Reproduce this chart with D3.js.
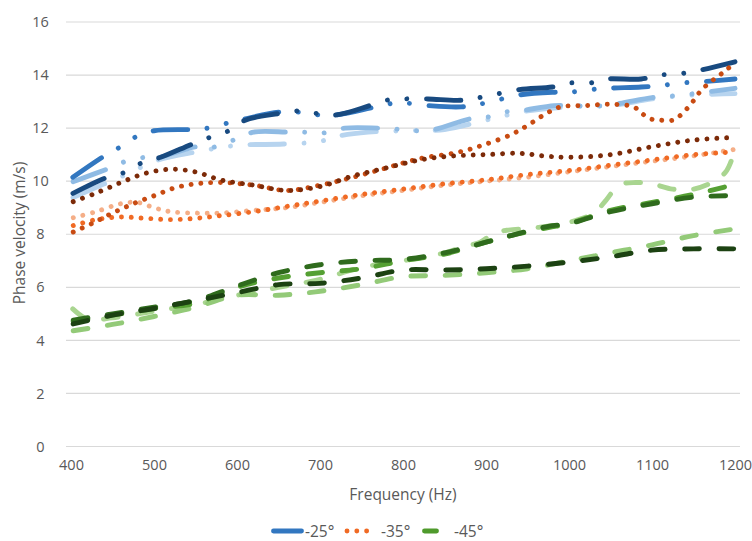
<!DOCTYPE html>
<html><head><meta charset="utf-8">
<script src="https://cdn.jsdelivr.net/npm/d3@7"></script>
<style>html,body{margin:0;padding:0;background:#fff;}svg{display:block;}text{font-family:"Open Sans",sans-serif;fill:#595959;}</style>
</head><body><svg id="c" width="752" height="541"></svg>
<script>
// ---- data ----
const xTicks = [400,500,600,700,800,900,1000,1100,1200];
const yTicks = [0,2,4,6,8,10,12,14,16];
const legendLabels = ["-25°","-35°","-45°"];

// -25° family (long dash dot dot)
const b1F = [400,440,466,486,508,546,567,590,610,650,675,697,720,760,780,800,830,870,900,940,980,1000,1025,1045,1087,1110,1134,1160,1200];
const b1V = [9.5,10.1,10.35,10.7,10.9,11.4,11.65,11.9,12.3,12.55,12.65,12.55,12.5,12.85,13.05,13.1,13.1,13.05,13.2,13.45,13.55,13.7,13.7,13.85,13.85,14.0,14.05,14.2,14.5];
const b2F = [400,440,460,480,500,545,565,590,610,650,675,697,720,760,780,800,830,870,900,940,980,1000,1025,1045,1087,1110,1134,1160,1200];
const b2V = [10.1,10.95,11.3,11.7,11.9,11.95,12.0,12.2,12.35,12.6,12.6,12.5,12.5,12.75,12.9,12.95,12.85,12.8,12.95,13.25,13.35,13.35,13.45,13.5,13.55,13.6,13.7,13.75,13.85];
const b3F = [400,447,466,489,505,552,567,600,620,662,680,700,730,770,800,830,881,900,920,940,982,1000,1042,1100,1120,1150,1200];
const b3V = [9.95,10.5,10.75,10.9,10.9,11.3,11.25,11.6,11.85,11.85,11.85,11.8,12.0,12.0,11.95,11.9,12.35,12.4,12.6,12.65,12.85,12.85,12.85,13.15,13.2,13.3,13.5];
const b4F = [400,440,470,500,550,600,656,700,722,758,800,850,900,950,1000,1050,1100,1150,1200];
const b4V = [9.35,9.9,10.3,10.75,11.1,11.35,11.4,11.5,11.7,11.85,11.9,11.95,12.3,12.65,12.8,12.85,13.1,13.25,13.3];

// -35° family (round dot)
const o1F = [400,430,460,490,520,550,580,620,660,700,740,780,820,860,900,940,970,1000,1050,1100,1150,1200];
const o1V = [9.2,9.55,9.95,10.3,10.45,10.35,10.05,9.85,9.65,9.8,10.2,10.5,10.8,10.95,11.0,11.05,10.95,10.9,11.0,11.3,11.55,11.65];
const o2F = [400,425,450,475,500,525,550,580,620,660,700,740,780,820,860,880,900,930,950,970,990,1020,1050,1078,1088,1098,1110,1125,1135,1148,1160,1175,1190,1200];
const o2V = [8.05,8.4,8.8,9.15,9.45,9.75,9.9,9.95,9.85,9.65,9.85,10.15,10.5,10.85,11.05,11.2,11.4,11.75,12.1,12.5,12.8,12.85,12.9,12.8,12.55,12.35,12.3,12.3,12.5,12.95,13.45,13.85,14.2,14.5];
const o3F = [400,430,460,490,520,550,580,620,660,700,750,800,850,900,950,1000,1050,1100,1150,1200];
const o3V = [8.3,8.55,8.65,8.6,8.55,8.6,8.7,8.85,9.05,9.25,9.5,9.7,9.9,10.05,10.25,10.4,10.6,10.8,11.0,11.1];
const o4F = [400,430,460,480,500,520,550,580,620,660,700,750,800,850,900,950,1000,1050,1100,1150,1200];
const o4V = [8.6,8.85,9.15,9.2,9.0,8.85,8.8,8.8,8.9,9.0,9.2,9.45,9.65,9.85,10.0,10.15,10.35,10.55,10.75,10.95,11.2];

// -45° family (dash)
const g1F = [400,450,500,550,600,650,700,750,800,850,900,930,975,1000,1050,1100,1150,1190];
const g1V = [4.75,5.0,5.25,5.5,6.05,6.55,6.85,7.0,7.05,7.3,7.7,7.95,8.3,8.4,8.85,9.15,9.4,9.45];
const g2F = [400,450,500,550,600,650,700,750,800,850,900,930,975,1000,1050,1100,1150,1190];
const g2V = [4.7,4.95,5.2,5.4,6.0,6.35,6.55,6.7,7.0,7.25,7.7,7.95,8.25,8.4,8.9,9.2,9.5,9.8];
const g3F = [400,420,450,500,550,600,650,700,750,800,850,875,893,910,925,960,1000,1030,1045,1060,1080,1100,1125,1150,1175,1190,1200];
const g3V = [5.25,4.8,4.85,5.1,5.35,5.7,6.0,6.3,6.75,7.0,7.3,7.55,7.7,8.05,8.15,8.25,8.45,8.8,9.3,9.85,9.95,9.9,9.7,9.7,10.0,10.4,11.2];
const g4F = [400,450,500,550,600,650,700,750,800,850,900,950,1000,1050,1100,1150,1200];
const g4V = [4.6,4.95,5.2,5.5,5.8,6.1,6.15,6.35,6.65,6.65,6.7,6.8,6.95,7.15,7.4,7.45,7.45];
const g5F = [400,450,500,550,600,650,700,750,800,850,900,950,1000,1050,1100,1150,1200];
const g5V = [4.35,4.6,4.9,5.25,5.7,5.7,5.85,6.1,6.4,6.45,6.55,6.7,7.0,7.3,7.6,7.95,8.2];

// ---- drawing ----
const W = 4.9;
const dashBlue = "34.3,19.6,0.01,19.6,0.01,19.6";
const dashDot = "0.01,9.8";
const dashGreen = "14.7,19.6";

const series = [
  {f:b4F, v:b4V, c:"#b7d4ef", d:dashBlue},
  {f:b3F, v:b3V, c:"#8fbbe4", d:dashBlue},
  {f:b2F, v:b2V, c:"#3277c0", d:dashBlue},
  {f:b1F, v:b1V, c:"#184a80", d:dashBlue},
  {f:o4F, v:o4V, c:"#f5ae87", d:dashDot},
  {f:o3F, v:o3V, c:"#f06a24", d:dashDot},
  {f:o2F, v:o2V, c:"#c84b12", d:dashDot},
  {f:o1F, v:o1V, c:"#7c2a08", d:dashDot},
  {f:g3F, v:g3V, c:"#a9d590", d:dashGreen},
  {f:g5F, v:g5V, c:"#93ca78", d:dashGreen},
  {f:g2F, v:g2V, c:"#55a033", d:dashGreen},
  {f:g1F, v:g1V, c:"#2f6b1d", d:dashGreen},
  {f:g4F, v:g4V, c:"#1c4212", d:dashGreen}
];

const svg = d3.select("#c");
const x = d3.scaleLinear().domain([400,1200]).range([71,735]);
const y = d3.scaleLinear().domain([0,16]).range([446.5,22]);
const FONT = "'Open Sans',sans-serif";

// gridlines
svg.append("g").selectAll("line").data(yTicks).join("line")
  .attr("x1",66).attr("x2",740)
  .attr("y1",d=>y(d)).attr("y2",d=>y(d))
  .attr("stroke","#d9d9d9").attr("stroke-width",1.2);

// axes labels via d3 axes
const yAxis = svg.append("g").attr("transform","translate(48,0)")
  .call(d3.axisLeft(y).tickValues(yTicks).tickSize(0).tickPadding(0).tickFormat(d3.format("d")));
yAxis.select(".domain").remove();
yAxis.selectAll("text").attr("text-anchor","middle").attr("x",-7.5)
  .style("font-size","14.5px").style("fill","#595959").style("font-family",FONT);

const xAxis = svg.append("g").attr("transform","translate(0,460)")
  .call(d3.axisBottom(x).tickValues(xTicks).tickSize(0).tickPadding(0).tickFormat(d3.format("d")));
xAxis.select(".domain").remove();
xAxis.selectAll("text").attr("dy","0.71em")
  .style("font-size","14.5px").style("fill","#595959").style("font-family",FONT);

// axis titles
svg.append("text").attr("x",403).attr("y",500).attr("text-anchor","middle")
  .style("font-size","15.5px").text("Frequency (Hz)");
svg.append("text").attr("transform","translate(24.5,233) rotate(-90)").attr("text-anchor","middle")
  .style("font-size","15.5px").text("Phase velocity (m/s)");

// series
const line = d3.line().x(d=>x(d[0])).y(d=>y(d[1])).curve(d3.curveCatmullRom.alpha(0.5));
const g = svg.append("g");
series.forEach(s=>{
  const pts = s.f.map((f,i)=>[f,s.v[i]]);
  g.append("path").attr("d",line(pts)).attr("fill","none")
    .attr("stroke",s.c).attr("stroke-width",W)
    .attr("stroke-linecap","round").attr("stroke-linejoin","round")
    .attr("stroke-dasharray",s.d).attr("stroke-dashoffset",-2.45);
});

// legend
const legend = [
  {lab:legendLabels[0], c:"#3277c0", d:null, x1:273.5, x2:301.5, tx:305},
  {lab:legendLabels[1], c:"#f06a24", d:dashDot, x1:347, x2:368, tx:381},
  {lab:legendLabels[2], c:"#4f9a2c", d:null, x1:424.5, x2:436.5, tx:454}
];
const lg = svg.append("g");
legend.forEach(l=>{
  const ln = lg.append("line").attr("x1",l.x1).attr("x2",l.x2).attr("y1",531).attr("y2",531)
    .attr("stroke",l.c).attr("stroke-width",W).attr("stroke-linecap","round");
  if (l.d) ln.attr("stroke-dasharray",l.d);
  lg.append("text").attr("x",l.tx).attr("y",537).style("font-size","15.5px").text(l.lab);
});
</script></body></html>
